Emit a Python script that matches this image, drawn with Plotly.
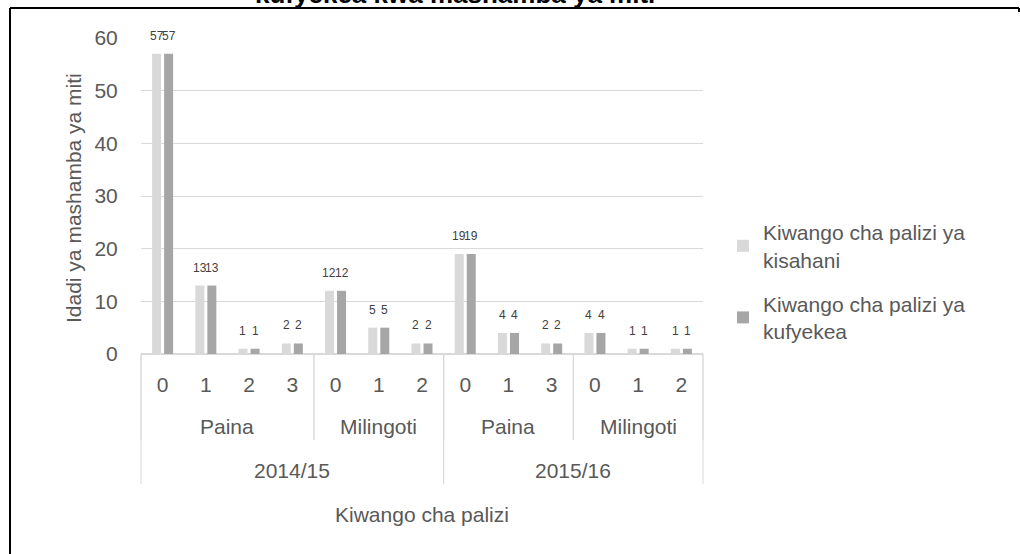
import plotly.graph_objects as go

# ---------------- data ----------------
years = ["2014/15"] * 7 + ["2015/16"] * 6
species = ["Paina"] * 4 + ["Milingoti"] * 3 + ["Paina"] * 3 + ["Milingoti"] * 3
levels = ["0", "1", "2", "3", "0", "1", "2", "0", "1", "3", "0", "1", "2"]
kisahani = [57, 13, 1, 2, 12, 5, 2, 19, 4, 2, 4, 1, 1]
kufyekea = [57, 13, 1, 2, 12, 5, 2, 19, 4, 2, 4, 1, 1]
series_names = ["Kiwango cha palizi ya<br>kisahani", "Kiwango cha palizi ya<br>kufyekea"]
title_text = "kufyekea kwa mashamba ya miti"
y_title = "Idadi ya mashamba ya miti"
x_title = "Kiwango cha palizi"

# ---------------- layout constants ----------------
W, H = 1020, 554
L, R, T, B = 141, 703, 38, 354
FONT = "Liberation Sans, Arial, sans-serif"
GREY = "#595959"
LINE = "#d9d9d9"
FS = 21

def px(xp):
    return (xp - L) / (R - L)

def py(yp):
    return (B - yp) / (B - T)

cats = [f"{y}|{s}|{l}" for y, s, l in zip(years, species, levels)]
n = len(cats)

fig = go.Figure()
colors = ["#d9d9d9", "#a6a6a6"]
for gi, (name, vals, col) in enumerate(zip(series_names, [kisahani, kufyekea], colors)):
    fig.add_trace(go.Bar(x=cats, y=vals, name=name, marker_color=col,
                         marker_line_width=0, legendgroup=f"g{gi}"))

annotations = []
# data labels
for k, vals in enumerate([kisahani, kufyekea]):
    for c, v in zip(cats, vals):
        annotations.append(dict(x=c, y=v, xref="x", yref="y", text=str(v),
                                showarrow=False, xanchor="center", yanchor="bottom",
                                xshift=(-6.1 if k == 0 else 6.1), yshift=9,
                                font=dict(size=12, color="#404040", family=FONT)))

shapes = []

def groups(keys):
    out = []
    start = 0
    for i in range(1, n + 1):
        if i == n or keys[i] != keys[start]:
            out.append((start, i))
            start = i
    return out

sp_keys = [f"{y}|{s}" for y, s in zip(years, species)]
for a, b in groups(sp_keys):
    annotations.append(dict(x=(a + b) / 2 / n, y=py(427), xref="paper", yref="paper",
                            text=species[a], showarrow=False,
                            xanchor="center", yanchor="middle",
                            font=dict(size=FS, color=GREY, family=FONT)))
    for edge in (a, b):
        shapes.append(dict(type="line", xref="paper", yref="paper",
                           x0=edge / n, x1=edge / n, y0=py(354), y1=py(440),
                           line=dict(color=LINE, width=1)))
for a, b in groups(years):
    annotations.append(dict(x=(a + b) / 2 / n, y=py(470), xref="paper", yref="paper",
                            text=years[a], showarrow=False,
                            xanchor="center", yanchor="middle",
                            font=dict(size=FS, color=GREY, family=FONT)))
    for edge in (a, b):
        shapes.append(dict(type="line", xref="paper", yref="paper",
                           x0=edge / n, x1=edge / n, y0=py(354), y1=py(484),
                           line=dict(color=LINE, width=1)))

# axis titles
annotations.append(dict(x=0.5, y=py(514), xref="paper", yref="paper", text=x_title,
                        showarrow=False, xanchor="center", yanchor="middle",
                        font=dict(size=FS, color=GREY, family=FONT)))
annotations.append(dict(x=px(73), y=py(198), xref="paper", yref="paper", text=y_title,
                        textangle=-90, showarrow=False, xanchor="center", yanchor="middle",
                        font=dict(size=FS, color=GREY, family=FONT)))
# chart title (cut at top of the image)
annotations.append(dict(x=px(455), y=py(-6), xref="paper", yref="paper",
                        text="<b>" + title_text + "</b>", showarrow=False,
                        xanchor="center", yanchor="middle",
                        font=dict(size=26, color="#000000", family=FONT)))

# outer frame (top and left edges)
shapes.append(dict(type="line", xref="paper", yref="paper", x0=px(10), x1=px(1019),
                   y0=py(8), y1=py(8), line=dict(color="#000000", width=2)))
shapes.append(dict(type="line", xref="paper", yref="paper", x0=px(10), x1=px(10),
                   y0=py(8), y1=py(560), line=dict(color="#000000", width=2)))
shapes.append(dict(type="line", xref="paper", yref="paper", x0=px(1019), x1=px(1019),
                   y0=py(8), y1=py(12), line=dict(color="#000000", width=2)))

fig.update_layout(
    width=W, height=H,
    margin=dict(l=L, r=W - R, t=T, b=H - B, pad=0),
    paper_bgcolor="white", plot_bgcolor="white",
    barmode="group", bargap=0.444, bargroupgap=0.25,
    font=dict(family=FONT, color=GREY, size=FS),
    showlegend=True,
    legend=dict(x=px(723), y=py(212), xanchor="left", yanchor="top",
                font=dict(size=FS, color=GREY, family=FONT),
                bgcolor="rgba(0,0,0,0)", tracegroupgap=14, traceorder="grouped",
                itemwidth=30),
    annotations=annotations,
    shapes=shapes,
)
fig.update_xaxes(type="category", categoryorder="array", categoryarray=cats,
                 tickmode="array", tickvals=cats, ticktext=levels,
                 showline=True, linecolor=LINE, linewidth=1,
                 showgrid=False, ticks="outside", ticklen=12,
                 tickcolor="rgba(0,0,0,0)",
                 tickfont=dict(size=FS, color=GREY, family=FONT),
                 range=[-0.5, n - 0.5], fixedrange=True)
fig.update_yaxes(range=[0, 60], dtick=10, showgrid=True, gridcolor=LINE, gridwidth=1,
                 zeroline=True, zerolinecolor=LINE, showline=False,
                 ticks="outside", ticklen=18, tickcolor="rgba(0,0,0,0)",
                 tickfont=dict(size=FS, color=GREY, family=FONT), fixedrange=True)

fig.write_html("out.html", config={"displayModeBar": False},
               post_script="document.body.style.margin='0';document.body.style.overflow='hidden';")
